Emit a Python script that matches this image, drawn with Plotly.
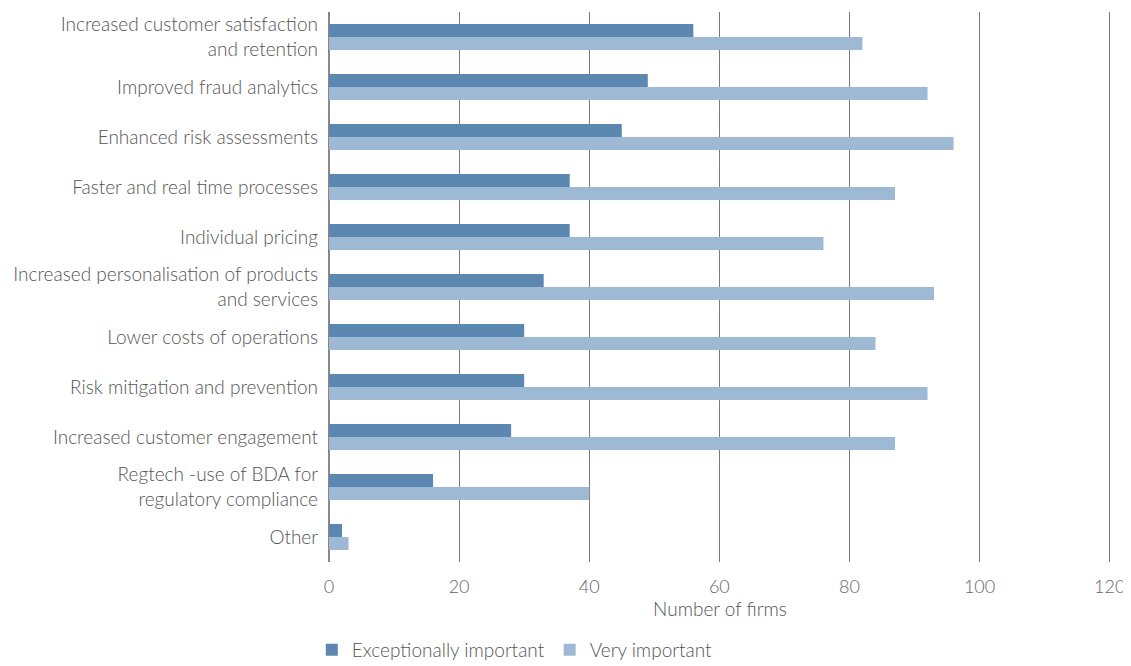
import plotly.graph_objects as go

# Benefits of big data analytics, number of firms
categories = [
    "Increased customer satisfaction<br>and retention",
    "Improved fraud analytics",
    "Enhanced risk assessments",
    "Faster and real time processes",
    "Individual pricing",
    "Increased personalisation of products<br>and services",
    "Lower costs of operations",
    "Risk mitigation and prevention",
    "Increased customer engagement",
    "Regtech -use of BDA for<br>regulatory compliance",
    "Other",
]
exceptionally_important = [56, 49, 45, 37, 37, 33, 30, 30, 28, 16, 2]
very_important = [82, 92, 96, 87, 76, 93, 84, 92, 87, 40, 3]
x_ticks = [0, 20, 40, 60, 80, 100, 120]

fig = go.Figure()

fig.add_trace(go.Bar(
    y=categories,
    x=exceptionally_important,
    orientation='h',
    name='Exceptionally important',
    marker=dict(color='#5B87B0', line=dict(width=0)),
))
fig.add_trace(go.Bar(
    y=categories,
    x=very_important,
    orientation='h',
    name='Very important',
    marker=dict(color='#9EB9D4', line=dict(width=0)),
))

# page body has an 8px margin, so the figure is sized to fit inside the window
fig.update_layout(
    width=1123,
    height=658,
    barmode='group',
    bargap=0.48,
    bargroupgap=0,
    plot_bgcolor='white',
    paper_bgcolor='white',
    font=dict(family='Lato', size=19, color='#555555', weight=300),
    margin=dict(l=321, r=20, t=4, b=104, autoexpand=False),
    legend=dict(
        orientation='h',
        x=-0.022,
        xanchor='left',
        y=-0.16,
        yanchor='middle',
        font=dict(size=19, color='#555555', weight=300),
        traceorder='normal',
    ),
)

fig.update_xaxes(
    range=[0, 120.2],
    tickvals=x_ticks,
    automargin=False,
    ticklabeloverflow='allow',
    showgrid=True,
    gridcolor='#7a7a7a',
    gridwidth=1,
    zeroline=True,
    zerolinecolor='#888888',
    zerolinewidth=2,
    showline=False,
    ticks='',
    ticklabelstandoff=12,
    tickfont=dict(size=18, color='#666666', weight=300),
    title=dict(text='Number of firms', font=dict(size=19, color='#555555', weight=300), standoff=6),
)

fig.update_yaxes(
    autorange='reversed',
    automargin=False,
    showgrid=False,
    ticks='',
    ticklabelstandoff=10,
    tickfont=dict(size=19, color='#555555', weight=300),
)

fig.write_html("out.html")
